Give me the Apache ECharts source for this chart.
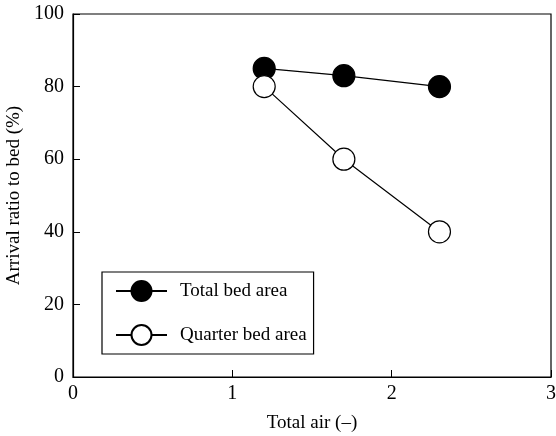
<!DOCTYPE html>
<html><head><meta charset="utf-8">
<script src="https://cdn.jsdelivr.net/npm/echarts@6/dist/echarts.min.js"></script>
<style>html,body{margin:0;padding:0;background:#fff}#c{width:556px;height:436px}</style>
</head><body><div id="c"></div>
<script>
const xTotal = [1.2, 1.7, 2.3];
const yTotal = [85, 83, 80];
const xQuarter = [1.2, 1.7, 2.3];
const yQuarter = [80, 60, 40];
const seriesNames = ['Total bed area', 'Quarter bed area'];

const font = 'Liberation Serif';
const chart = echarts.init(document.getElementById('c'));
chart.setOption({
  animation: false,
  backgroundColor: '#fff',
  grid: {left: 73, right: 5, top: 14, bottom: 59, show: true, borderColor: '#000', borderWidth: 1.2,
         containLabel: false, outerBoundsMode: 'none'},
  xAxis: {
    type: 'value', min: 0, max: 3, interval: 1,
    name: 'Total air (–)', nameLocation: 'middle', nameGap: 37,
    nameTextStyle: {fontFamily: font, fontSize: 19, color: '#000'},
    axisLine: {lineStyle: {color: '#000', width: 1.2}},
    axisTick: {inside: true, length: 7, lineStyle: {color: '#000'}},
    axisLabel: {fontFamily: font, fontSize: 20, color: '#000', margin: 7},
    splitLine: {show: false}
  },
  yAxis: {
    type: 'value', min: 0, max: 100, interval: 20,
    name: 'Arrival ratio to bed (%)', nameLocation: 'middle', nameGap: 47,
    nameTextStyle: {fontFamily: font, fontSize: 19, color: '#000'},
    axisLine: {lineStyle: {color: '#000', width: 1.2}},
    axisTick: {inside: true, length: 7, lineStyle: {color: '#000'}},
    axisLabel: {fontFamily: font, fontSize: 20, color: '#000', margin: 9},
    splitLine: {show: false}
  },
  legend: {
    orient: 'vertical', left: 102, top: 272,
    data: seriesNames,
    borderColor: '#000', borderWidth: 1.2, borderRadius: 0,
    padding: [8, 7, 8, 13],
    itemWidth: 51, itemHeight: 25, itemGap: 22,
    textStyle: {fontFamily: font, fontSize: 19, color: '#000', padding: [0, 0, 0, 8]}
  },
  series: [
    {
      name: seriesNames[0], type: 'line',
      data: xTotal.map((x, i) => [x, yTotal[i]]),
      symbol: 'circle', symbolSize: 22,
      lineStyle: {color: '#000', width: 1.2},
      itemStyle: {color: '#000', borderColor: '#000', borderWidth: 1.2}
    },
    {
      name: seriesNames[1], type: 'line',
      data: xQuarter.map((x, i) => [x, yQuarter[i]]),
      symbol: 'circle', symbolSize: 22,
      lineStyle: {color: '#000', width: 1.2},
      itemStyle: {color: '#fff', borderColor: '#000', borderWidth: 1.2}
    }
  ]
});
</script></body></html>
